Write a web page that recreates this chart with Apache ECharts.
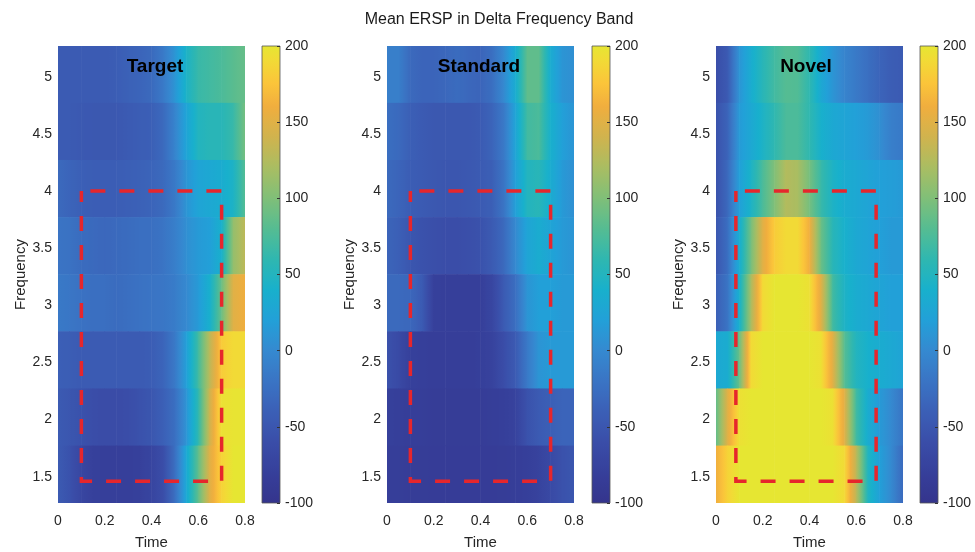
<!DOCTYPE html>
<html>
<head>
<meta charset="utf-8">
<script src="https://cdn.jsdelivr.net/npm/echarts@6/dist/echarts.min.js"></script>
<style>
html,body{margin:0;padding:0;background:#fff;}
#chart{width:975px;height:552px;}
</style>
</head>
<body>
<div id="chart"></div>
<script>
// ---------------- data ----------------
const chartTitle = 'Mean ERSP in Delta Frequency Band';
const panelNames = ['Target', 'Standard', 'Novel'];
// sample times (s)
const times = [0, 0.05, 0.1, 0.15, 0.2, 0.25, 0.3, 0.35, 0.4, 0.45, 0.5, 0.55, 0.6, 0.65, 0.7, 0.75, 0.8];
// frequency bins (Hz), top row first
const freqs = [5.02, 4.52, 4.02, 3.52, 3.02, 2.52, 2.02, 1.52];
const rowHeight = 0.5;

const targetERSP = [
  [-45,-45,-45,-45,-45,-42,-38,-35,-30,-15,10,45,65,70,75,82,88],
  [-45,-45,-47,-48,-48,-48,-45,-42,-40,-30,-5,25,50,55,55,65,95],
  [-30,-35,-40,-42,-42,-42,-40,-38,-35,-30,-15,10,25,30,35,45,80],
  [-20,-22,-28,-30,-32,-30,-28,-25,-25,-20,-10,5,15,20,40,110,130],
  [-15,-18,-22,-25,-25,-28,-25,-22,-20,-18,-12,0,15,40,90,150,160],
  [-40,-42,-45,-45,-45,-45,-45,-45,-42,-35,-15,20,70,130,180,190,190],
  [-45,-50,-55,-60,-62,-62,-60,-55,-50,-40,-25,10,60,140,195,198,198],
  [-45,-55,-70,-78,-80,-80,-80,-78,-72,-60,-25,30,85,150,185,200,200]
];
const standardERSP = [
  [-10,-10,-30,-35,-35,-32,-28,-32,-35,-25,0,35,85,85,35,10,5],
  [-25,-30,-40,-45,-48,-48,-48,-48,-45,-35,-15,25,70,75,40,20,10],
  [-30,-35,-42,-45,-48,-50,-50,-48,-45,-40,-20,20,50,55,35,15,5],
  [-35,-40,-50,-55,-58,-60,-60,-58,-55,-45,-30,0,25,35,25,15,10],
  [-30,-30,-32,-45,-78,-80,-80,-80,-80,-70,-45,-25,10,20,20,15,15],
  [-55,-65,-78,-80,-82,-82,-82,-82,-80,-75,-60,-45,-15,10,15,15,15],
  [-78,-80,-82,-82,-84,-84,-84,-84,-84,-82,-80,-75,-55,-45,-40,-35,-35],
  [-82,-82,-84,-84,-85,-85,-85,-85,-85,-85,-84,-82,-80,-75,-65,-55,-50]
];
const novelERSP = [
  [-60,-45,10,35,55,70,80,78,60,30,10,-5,-15,-25,-35,-42,-45],
  [-55,-35,15,30,45,60,75,75,60,40,30,25,20,15,5,-10,-15],
  [-55,-30,20,45,75,100,125,120,95,65,45,35,30,25,20,18,15],
  [-50,-25,35,95,150,180,190,190,160,90,55,40,30,25,20,15,15],
  [-40,-20,40,120,190,200,200,200,195,150,70,45,35,30,25,20,20],
  [30,35,90,190,200,200,200,200,200,195,150,80,50,40,35,30,25],
  [85,150,195,200,200,200,200,200,200,200,195,150,70,35,15,0,-20],
  [160,185,200,200,200,200,200,200,200,200,200,190,130,50,20,0,-30]
];
const panelData = [targetERSP, standardERSP, novelERSP];

// region of interest (dashed rectangles), [time, freq]
const roiTarget   = [[0.1,4.0],[0.7,4.0],[0.7,1.46],[0.1,1.46],[0.1,4.0]];
const roiStandard = [[0.1,4.0],[0.7,4.0],[0.7,1.46],[0.1,1.46],[0.1,4.0]];
const roiNovel    = [[0.085,4.0],[0.685,4.0],[0.685,1.46],[0.085,1.46],[0.085,4.0]];
const rois = [roiTarget, roiStandard, roiNovel];

// axes
const timeMin = 0, timeMax = 0.8, timeInterval = 0.2;
const freqMin = 1.27, freqMax = 5.27;
const freqTicks = [1.5, 2, 2.5, 3, 3.5, 4, 4.5, 5];
const cbarMin = -100, cbarMax = 200, cbarInterval = 50;

// colormap (parula-like)
const cmapValues = [-100,-80,-60,-40,-20,0,20,40,60,80,100,120,140,160,175,190,200];
const cmapColors = ['#34348c','#363f9a','#3a4da8','#3b5fb6','#3a74c4','#3589d0','#22a0d8','#18b0cc','#2fb7b0','#55bc92','#80bf78','#a9bd62','#d0b34e','#f0ae3e','#fbc43a','#f2da36','#e6e632'];

// ---------------- helpers ----------------
function hexToRgb(h){ return [parseInt(h.substr(1,2),16), parseInt(h.substr(3,2),16), parseInt(h.substr(5,2),16)]; }
const cmapRgb = cmapColors.map(hexToRgb);
function colorOf(v){
  if (v <= cmapValues[0]) return cmapColors[0];
  if (v >= cmapValues[cmapValues.length-1]) return cmapColors[cmapColors.length-1];
  for (let i = 0; i < cmapValues.length-1; i++){
    if (v >= cmapValues[i] && v <= cmapValues[i+1]){
      const f = (v - cmapValues[i]) / (cmapValues[i+1] - cmapValues[i]);
      const a = cmapRgb[i], b = cmapRgb[i+1];
      return 'rgb(' + [0,1,2].map(k => Math.round(a[k] + (b[k]-a[k])*f)).join(',') + ')';
    }
  }
  return cmapColors[0];
}

// layout
const grids = [
  {left: 58, top: 46, width: 187, height: 457},
  {left: 387, top: 46, width: 187, height: 457},
  {left: 716, top: 46, width: 187, height: 457}
];
const cbars = [
  {left: 262, top: 46, width: 18, height: 457},
  {left: 592, top: 46, width: 18, height: 457},
  {left: 920, top: 46, width: 18, height: 457}
];
const titlePos = [[155, 67], [479, 67], [806, 67]];

const FONT = 'Liberation Sans, Arial, Helvetica, sans-serif';
const TXT = '#262626';

const gridOpt = [], xAxes = [], yAxes = [], series = [], graphics = [];

for (let p = 0; p < 3; p++){
  gridOpt.push(Object.assign({outerBoundsMode: 'none', containLabel: false}, grids[p]));
  xAxes.push({
    type: 'value', gridIndex: p, min: timeMin, max: timeMax, interval: timeInterval,
    name: 'Time', nameLocation: 'middle', nameGap: 32,
    nameTextStyle: {fontFamily: FONT, fontSize: 15, color: TXT},
    axisLine: {show: false}, axisTick: {show: false}, splitLine: {show: false},
    axisLabel: {fontFamily: FONT, fontSize: 14, color: TXT, margin: 11}
  });
  yAxes.push({
    type: 'value', gridIndex: p, min: freqMin, max: freqMax,
    name: 'Frequency', nameLocation: 'middle', nameGap: 30, nameRotate: 90,
    nameTextStyle: {fontFamily: FONT, fontSize: 15, color: TXT},
    axisLine: {show: false}, axisTick: {show: false}, splitLine: {show: false},
    axisLabel: {fontFamily: FONT, fontSize: 14, color: TXT, margin: 6, customValues: freqTicks}
  });
}
for (let p = 0; p < 3; p++){
  gridOpt.push(Object.assign({outerBoundsMode: 'none', containLabel: false}, cbars[p]));
  xAxes.push({type: 'value', gridIndex: 3+p, min: 0, max: 1, show: false});
  yAxes.push({
    type: 'value', gridIndex: 3+p, position: 'right', min: cbarMin, max: cbarMax, interval: cbarInterval, z: 5,
    axisLine: {show: false, onZero: false}, splitLine: {show: false},
    axisTick: {show: true, inside: true, length: 3, lineStyle: {color: '#333', width: 1}},
    axisLabel: {fontFamily: FONT, fontSize: 14, color: TXT, margin: 5}
  });
}

// heatmap cells
for (let p = 0; p < 3; p++){
  const cells = [];
  const rows = panelData[p];
  for (let r = 0; r < freqs.length; r++){
    for (let i = 0; i < times.length-1; i++){
      cells.push([times[i], times[i+1], freqs[r], rows[r][i], rows[r][i+1]]);
    }
  }
  series.push({
    type: 'custom', xAxisIndex: p, yAxisIndex: p, data: cells, clip: true, silent: true,
    encode: {x: [0, 1], y: 2},
    renderItem: function(params, api){
      const t0 = api.value(0), t1 = api.value(1), f = api.value(2), v0 = api.value(3), v1 = api.value(4);
      const a = api.coord([t0, f + rowHeight/2]);
      const b = api.coord([t1, f - rowHeight/2]);
      const stops = [];
      const n = 6;
      for (let k = 0; k <= n; k++){
        stops.push({offset: k/n, color: colorOf(v0 + (v1 - v0) * k / n)});
      }
      return {
        type: 'rect',
        shape: {x: a[0] - 0.3, y: a[1] - 0.3, width: b[0] - a[0] + 0.6, height: b[1] - a[1] + 0.6},
        style: {fill: {type: 'linear', x: 0, y: 0, x2: 1, y2: 0, global: false, colorStops: stops}, stroke: null}
      };
    }
  });
  // ROI dashed rectangle
  series.push({
    type: 'line', xAxisIndex: p, yAxisIndex: p, data: rois[p], symbol: 'none', silent: true, z: 5,
    lineStyle: {color: '#e6262c', width: 3.5, type: [15, 14], dashOffset: 20, join: 'miter', cap: 'butt'},
    animation: false
  });
}

// colorbars
for (let p = 0; p < 3; p++){
  series.push({
    type: 'custom', xAxisIndex: 3+p, yAxisIndex: 3+p, data: [[cbarMin, cbarMax]], silent: true, z: 1,
    encode: {y: [0, 1]},
    renderItem: function(params, api){
      const lo = api.value(0), hi = api.value(1);
      const a = api.coord([0, hi]);
      const b = api.coord([1, lo]);
      const stops = [];
      const n = 60;
      for (let k = 0; k <= n; k++){
        stops.push({offset: k/n, color: colorOf(hi - (hi - lo) * k / n)});
      }
      return {
        type: 'rect',
        shape: {x: a[0], y: a[1], width: b[0] - a[0], height: b[1] - a[1]},
        style: {fill: {type: 'linear', x: 0, y: 0, x2: 0, y2: 1, global: false, colorStops: stops}, stroke: '#555', lineWidth: 0.8}
      };
    }
  });
}

for (let p = 0; p < 3; p++){
  graphics.push({
    type: 'text', x: titlePos[p][0], y: titlePos[p][1], z: 10, silent: true,
    style: {text: panelNames[p], fill: '#000', font: 'bold 19px ' + FONT,
            align: 'center', verticalAlign: 'middle', textAlign: 'center', textVerticalAlign: 'middle'}
  });
}

const option = {
  animation: false,
  backgroundColor: '#fff',
  title: {
    text: chartTitle, left: 494, top: 7, textAlign: 'center',
    textStyle: {fontFamily: FONT, fontSize: 16, fontWeight: 'normal', color: '#1a1a1a'}
  },
  grid: gridOpt,
  xAxis: xAxes,
  yAxis: yAxes,
  series: series,
  graphic: graphics
};

const chart = echarts.init(document.getElementById('chart'), null, {renderer: 'canvas'});
chart.setOption(option);
</script>
</body>
</html>
